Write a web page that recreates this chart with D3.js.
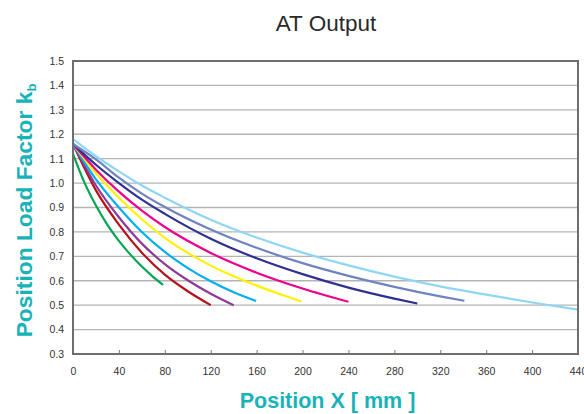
<!DOCTYPE html>
<html><head><meta charset="utf-8">
<script src="https://cdn.jsdelivr.net/npm/d3@7"></script>
<style>body{margin:0;background:#fff}svg{display:block}</style>
</head><body>
<svg id="c" width="584" height="414"></svg>
<script>
const title = "AT Output";
const xTicks = [0,40,80,120,160,200,240,280,320,360,400,440];
const yTicks = [0.3,0.4,0.5,0.6,0.7,0.8,0.9,1.0,1.1,1.2,1.3,1.4,1.5];
const seriesColors = ["#00a651","#b5121b","#8e3a96","#00aeef","#fff200","#ec008c","#2e3192","#6f83c2","#8fd6f5"];
const s1 = [[0,1.12],[10,1.002],[20,0.908],[30,0.829],[40,0.763],[50,0.707],[60,0.658],[70,0.615],[78.5,0.583]];
const s2 = [[0,1.16],[20,0.97],[40,0.83],[60,0.715],[80,0.625],[100,0.557],[120,0.50]];
const s3 = [[0,1.16],[20,0.99],[40,0.86],[60,0.752],[80,0.668],[100,0.602],[120,0.547],[140,0.50]];
const s4 = [[0,1.16],[20,1.015],[40,0.90],[60,0.80],[80,0.718],[100,0.652],[120,0.598],[140,0.553],[159.5,0.517]];
const s5 = [[0,1.16],[20,1.04],[40,0.94],[60,0.852],[80,0.776],[100,0.714],[120,0.662],[140,0.618],[160,0.58],[180,0.546],[199,0.515]];
const s6 = [[0,1.16],[20,1.055],[40,0.965],[60,0.887],[80,0.82],[120,0.714],[160,0.633],[200,0.568],[240,0.514]];
const s7 = [[0,1.16],[20,1.075],[40,1.0],[60,0.932],[80,0.874],[120,0.772],[160,0.692],[200,0.627],[240,0.572],[280,0.527],[300,0.507]];
const s8 = [[0,1.16],[20,1.097],[40,1.022],[60,0.957],[80,0.902],[120,0.81],[160,0.735],[200,0.672],[240,0.62],[280,0.575],[320,0.536],[341,0.518]];
const s9 = [[0,1.18],[20,1.11],[40,1.048],[60,0.99],[80,0.94],[120,0.85],[160,0.777],[200,0.715],[240,0.663],[280,0.617],[320,0.577],[360,0.543],[400,0.511],[440,0.482]];
const seriesData = [s1,s2,s3,s4,s5,s6,s7,s8,s9];

const svg = d3.select("#c");
const L = 73, R = 578, T = 61, B = 354;
const x = d3.scaleLinear().domain([0,440]).range([L,R]);
const y = d3.scaleLinear().domain([0.3,1.5]).range([B,T]);
const font = "'Liberation Sans', Arial, sans-serif";

// gridlines
svg.append("g").selectAll("line").data(yTicks.slice(1,-1)).join("line")
  .attr("x1",L).attr("x2",R).attr("y1",d=>y(d)).attr("y2",d=>y(d))
  .attr("stroke","#b4b4b4").attr("stroke-width",1.3);

// curves
const line = d3.line().x(d=>x(d[0])).y(d=>y(d[1])).curve(d3.curveMonotoneX);
svg.append("g").selectAll("path").data(seriesData).join("path")
  .attr("d",line).attr("fill","none")
  .attr("stroke",(d,i)=>seriesColors[i]).attr("stroke-width",2.2);

// x axis ticks (inside)
const xAxis = d3.axisBottom(x).tickValues(xTicks).tickSize(-4).tickPadding(14).tickFormat(d3.format("d"));
const gx = svg.append("g").attr("transform",`translate(0,${B})`).call(xAxis);
gx.select(".domain").remove();
gx.selectAll("line").attr("stroke","#777");
gx.selectAll("text").attr("font-family",font).attr("font-size",10.5).attr("fill","#333");

const yAxis = d3.axisLeft(y).tickValues(yTicks).tickSize(0).tickPadding(9).tickFormat(d3.format(".1f"));
const gy = svg.append("g").attr("transform",`translate(${L},0)`).call(yAxis);
gy.select(".domain").remove();
gy.selectAll("text").attr("font-family",font).attr("font-size",10.5).attr("fill","#333");

// frame
svg.append("rect").attr("x",L).attr("y",T).attr("width",R-L).attr("height",B-T)
  .attr("fill","none").attr("stroke","#6e6e6e").attr("stroke-width",2);

// titles
svg.append("text").attr("x",326).attr("y",31).attr("text-anchor","middle")
  .attr("font-family",font).attr("font-size",22.5).attr("fill","#2a2a2a").text(title);

svg.append("text").attr("x",(L+R)/2+2).attr("y",408).attr("text-anchor","middle")
  .attr("font-family",font).attr("font-weight","bold").attr("font-size",21.5).attr("fill","#17b3b9")
  .text("Position X [ mm ]");

const yt = svg.append("text").attr("transform",`translate(32,${(T+B)/2+3}) rotate(-90)`)
  .attr("text-anchor","middle").attr("font-family",font).attr("font-weight","bold")
  .attr("font-size",22.8).attr("fill","#17b3b9");
yt.append("tspan").text("Position Load Factor k");
yt.append("tspan").attr("font-size",13).attr("dy",4).text("b");
</script>
</body></html>
